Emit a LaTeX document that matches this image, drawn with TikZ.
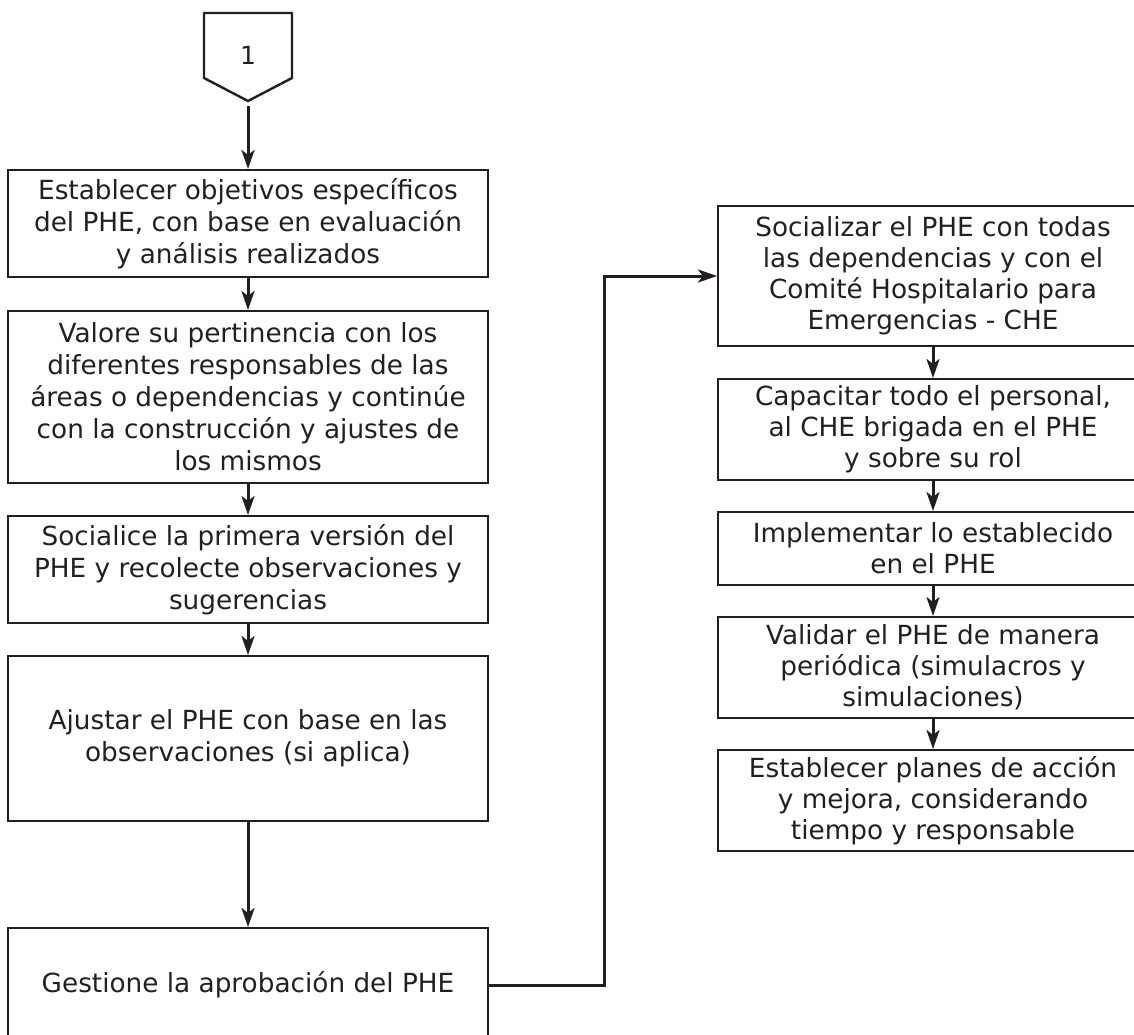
\documentclass[tikz,border=0pt]{standalone}
\usepackage{fontspec}
\setmainfont{DejaVu Sans}
\usetikzlibrary{arrows.meta}
\definecolor{ink}{HTML}{231F20}
\begin{document}
\begin{tikzpicture}[x=1pt,y=-1pt,
  every node/.style={text=ink},
  boxL/.style={draw=ink, line width=2pt, minimum width=480pt, inner sep=0pt, align=center, font=\fontsize{26.3}{32}\selectfont},
  boxR/.style={draw=ink, line width=2pt, minimum width=430pt, inner sep=0pt, align=center, font=\fontsize{26.3}{31}\selectfont},
  arr/.style={draw=ink, line width=3pt, -{Stealth[length=19pt,width=13pt,inset=5pt]}}]
\useasboundingbox (0,0) rectangle (1134,1034);
\clip (0,0) rectangle (1134,1034);
% connector label pentagon
\draw[ink, line width=2.4pt] (204,13) -- (292,13) -- (292,78) -- (248,101) -- (204,78) -- cycle;
\node[font=\fontsize{25}{30}\selectfont] (p1) at (248,55) {1};
\coordinate (ptip) at (248,106);
% left column
\node[boxL, minimum height=107pt] (L1) at (248,223.5) {Establecer objetivos específicos\\del PHE, con base en evaluación\\y análisis realizados};
\node[boxL, minimum height=172pt] (L2) at (248,397) {Valore su pertinencia con los\\diferentes responsables de las\\áreas o dependencias y continúe\\con la construcción y ajustes de\\los mismos};
\node[boxL, minimum height=107pt] (L3) at (248,569.5) {Socialice la primera versión del\\PHE y recolecte observaciones y\\sugerencias};
\node[boxL, minimum height=165pt] (L4) at (248,738.5) {Ajustar el PHE con base en las\\observaciones (si aplica)};
\node[boxL, minimum height=114pt] (L5) at (248,985) {Gestione la aprobación del PHE};
% right column
\node[boxR, minimum height=140pt] (R1) at (933,276) {Socializar el PHE con todas\\las dependencias y con el\\Comité Hospitalario para\\Emergencias - CHE};
\node[boxR, minimum height=101pt] (R2) at (933,429.5) {Capacitar todo el personal,\\al CHE brigada en el PHE\\y sobre su rol};
\node[boxR, minimum height=73pt] (R3) at (933,548.5) {Implementar lo establecido\\en el PHE};
\node[boxR, minimum height=101pt] (R4) at (933,667.5) {Validar el PHE de manera\\periódica (simulacros y\\simulaciones)};
\node[boxR, minimum height=101pt] (R5) at (933,800.5) {Establecer planes de acción\\y mejora, considerando\\tiempo y responsable};
% connectors
\draw[arr] (ptip) -- (L1.north);
\draw[arr] (L1) -- (L2);
\draw[arr] (L2) -- (L3);
\draw[arr] (L3) -- (L4);
\draw[arr] (L4) -- (L5);
\draw[arr] (L5.east) -- ++(115,0) |- (R1.west);
\draw[arr] (R1) -- (R2);
\draw[arr] (R2) -- (R3);
\draw[arr] (R3) -- (R4);
\draw[arr] (R4) -- (R5);
\end{tikzpicture}
\end{document}
